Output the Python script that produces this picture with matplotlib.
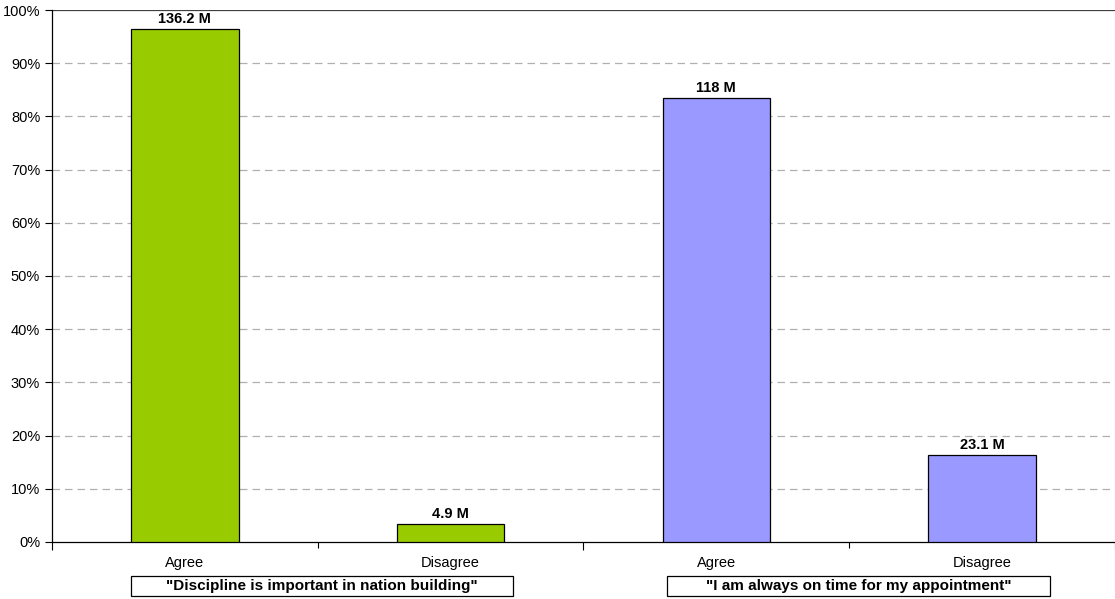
import matplotlib
matplotlib.use("Agg")
import matplotlib.pyplot as plt
from matplotlib.patches import Rectangle
from matplotlib.ticker import PercentFormatter

plt.rcParams['font.family'] = ['Liberation Sans', 'DejaVu Sans']

# data
categories = ["Agree", "Disagree", "Agree", "Disagree"]
shares = [96.4, 3.4, 83.5, 16.4]
value_labels = ["136.2 M", "4.9 M", "118 M", "23.1 M"]
bar_colors = ["#99CC00", "#99CC00", "#9999FF", "#9999FF"]
groups = ['"Discipline is important in nation building"',
          '"I am always on time for my appointment"']

fig = plt.figure(figsize=(11.15, 5.99), dpi=100)
ax = fig.add_axes([0.0466, 0.0952, 0.9534, 0.8881])

x = list(range(len(categories)))
ax.bar(x, shares, width=0.405, color=bar_colors, edgecolor="black", linewidth=0.9, zorder=3)

for xi, h, lab in zip(x, shares, value_labels):
    ax.text(xi, h + 0.6, lab, ha="center", va="bottom", fontsize=10.5, fontweight="bold", zorder=4)

ax.set_xlim(-0.5, len(categories) - 0.5)
ax.set_ylim(0, 100)
ax.set_yticks(range(0, 101, 10))
ax.yaxis.set_major_formatter(PercentFormatter(decimals=0))
ax.tick_params(axis="y", labelsize=10.5, length=5, width=0.8, direction="out")

for y in range(10, 100, 10):
    ax.axhline(y, color="#b0b0b0", linestyle=(0, (6, 4)), linewidth=0.9, zorder=1)
ax.axhline(100, color="#404040", linewidth=0.9, zorder=1)

for side in ["top", "right"]:
    ax.spines[side].set_visible(False)
ax.spines["left"].set_linewidth(0.9)
ax.spines["bottom"].set_linewidth(0.9)

# tick marks at category / group boundaries
ax.set_xticks([-0.5, 1.5, 3.5])
ax.set_xticks([0.5, 2.5], minor=True)
ax.set_xticklabels([])
ax.tick_params(axis="x", which="major", length=6, width=0.8)
ax.tick_params(axis="x", which="minor", length=4, width=0.8)
for xi, c in zip(x, categories):
    ax.text(xi, -3.9, c, ha="center", va="center", fontsize=10.5)

# group boxes
box_spans = [(-0.203, 1.235), (1.814, 3.255)]
for (x0, x1), g in zip(box_spans, groups):
    ax.add_patch(Rectangle((x0, -10.1), x1 - x0, 3.7, fc="white", ec="black",
                           lw=0.9, clip_on=False))
    ax.text((x0 + x1) / 2, -8.2, g, ha="center", va="center", fontsize=11,
            fontweight="bold", clip_on=False)

fig.savefig("out.png", dpi=100)
